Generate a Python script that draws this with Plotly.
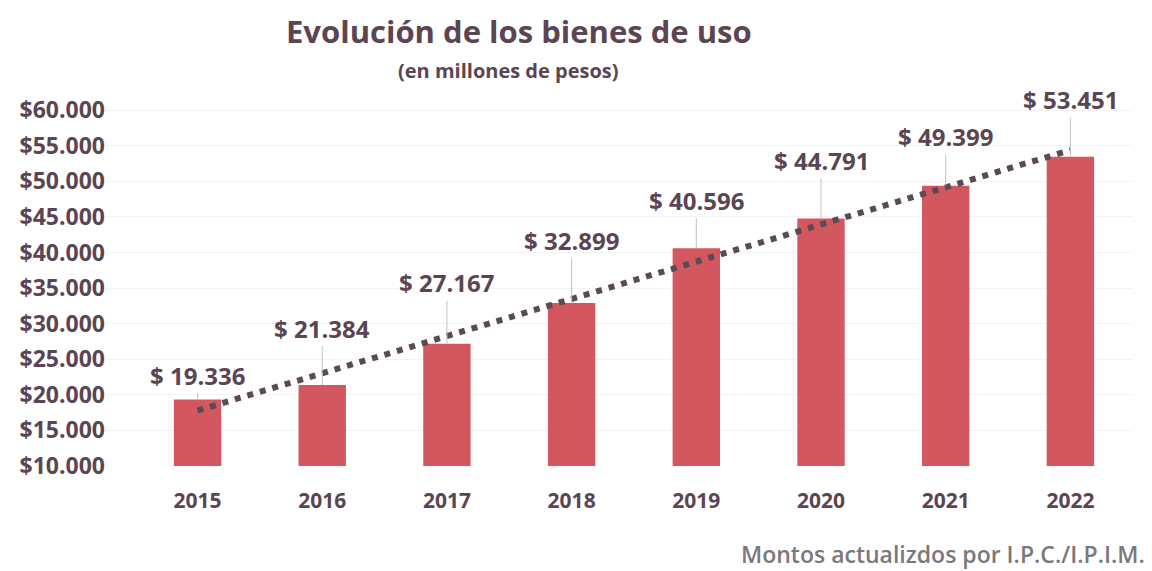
"""
Evolución de los bienes de uso - bar chart with dotted linear trend
"""
import plotly.graph_objects as go

# Data
years = ["2015", "2016", "2017", "2018", "2019", "2020", "2021", "2022"]
montos = [19336, 21384, 27167, 32899, 40596, 44791, 49399, 53451]

# Trend line ends (first and last year)
trend_years = ["2015", "2022"]
trend_values = [17800, 54400]

y_ticks = [10000, 15000, 20000, 25000, 30000, 35000, 40000, 45000, 50000, 55000, 60000]

# pixel offsets of value labels above each bar (style only)
label_offsets = [-24, -57, -61, -63, -48, -58, -49, -57]

TXT = "#5b4553"
BAR = "#d2575e"
FONT = "Open Sans"
DOLLAR = "&#36;"  # keeps the dollar sign literal in plotly text


def miles(v):
    return f"{v:,}".replace(",", ".")


fig = go.Figure()

fig.add_trace(go.Bar(
    x=years,
    y=montos,
    width=0.38,
    marker=dict(color=BAR, line=dict(width=0)),
    hoverinfo="skip",
    showlegend=False,
))

# Linear trend (dotted)
fig.add_trace(go.Scatter(
    x=trend_years,
    y=trend_values,
    mode="lines",
    line=dict(color="#5a4a55", width=6, dash="6px,7px"),
    hoverinfo="skip",
    showlegend=False,
))

# Value labels with leader lines (x as category index)
for i, (val, off) in enumerate(zip(montos, label_offsets)):
    fig.add_annotation(
        x=i, y=val,
        xref="x", yref="y",
        text="<b>" + DOLLAR + " " + miles(val) + "</b>",
        showarrow=True,
        arrowhead=0,
        arrowwidth=1,
        arrowcolor="#c2c2c6",
        standoff=0,
        ax=0, ay=off,
        font=dict(family=FONT, size=24, color=TXT),
    )

# Title, subtitle and source note (paper coords)
fig.add_annotation(
    text="<b>Evolución de los bienes de uso</b>",
    xref="paper", yref="paper", x=0.4025, y=1.176,
    xanchor="center", yanchor="middle", showarrow=False,
    font=dict(family=FONT, size=31, color=TXT),
)
fig.add_annotation(
    text="<b>(en millones de pesos)</b>",
    xref="paper", yref="paper", x=0.392, y=1.070,
    xanchor="center", yanchor="middle", showarrow=False,
    font=dict(family=FONT, size=20, color=TXT),
)
fig.add_annotation(
    text="Montos actualizdos por I.P.C./I.P.I.M.",
    xref="paper", yref="paper", x=1.015, y=-0.237,
    xanchor="right", yanchor="middle", showarrow=False,
    font=dict(family=FONT, size=23, color="#7a787c", weight=600),
)

fig.update_layout(
    width=1144,
    height=563,
    paper_bgcolor="white",
    plot_bgcolor="white",
    margin=dict(l=93, r=20, t=88, b=105),
    font=dict(family=FONT, color=TXT),
)

fig.update_xaxes(
    type="category",
    range=[-0.734, 7.494],
    showline=False,
    showgrid=False,
    zeroline=False,
    ticks="",
    ticklabelstandoff=20,
    tickfont=dict(family=FONT, size=21, color=TXT, weight="bold"),
)

fig.update_yaxes(
    range=[10000, 62000],
    tickvals=y_ticks,
    ticktext=[DOLLAR + miles(v) for v in y_ticks],
    showline=False,
    showgrid=True,
    gridcolor="#f3f3f3",
    zeroline=False,
    ticks="",
    tickfont=dict(family=FONT, size=23, color=TXT, weight="bold"),
)

fig.write_html("out.html")
